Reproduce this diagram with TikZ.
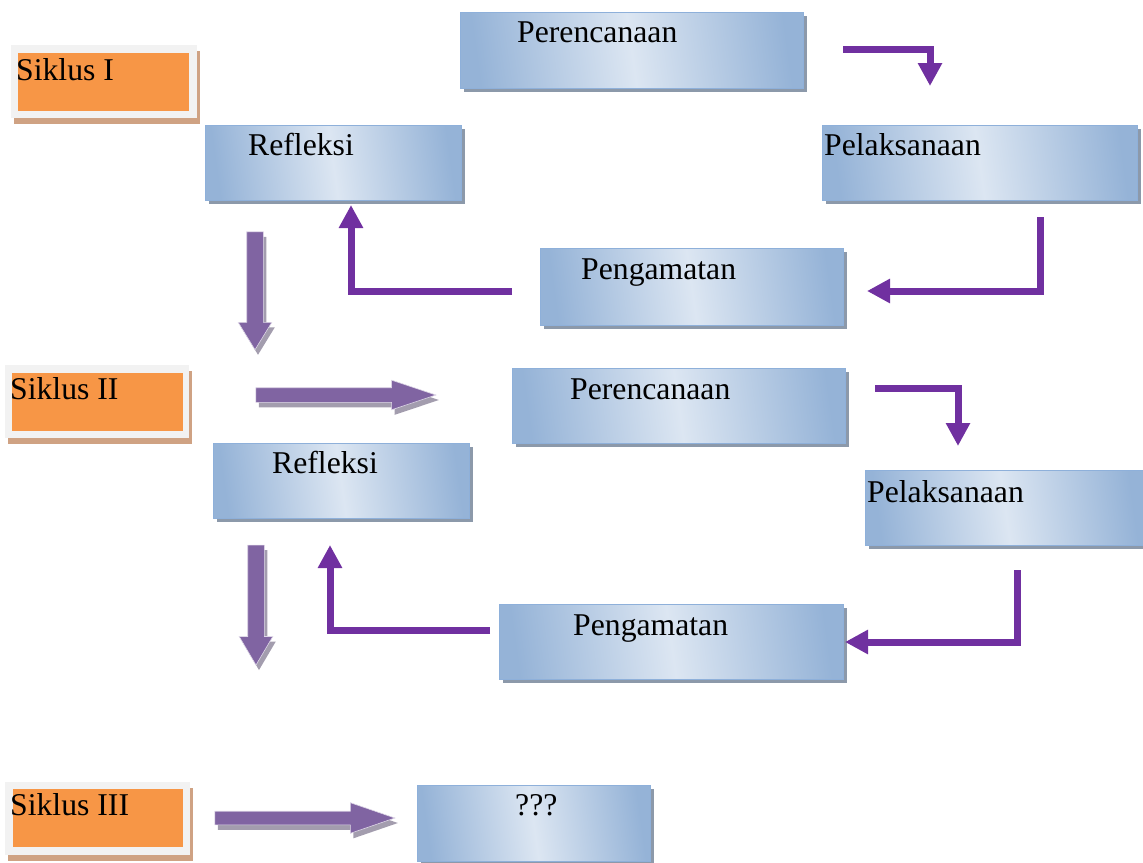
\documentclass[tikz,border=0pt]{standalone}
\usepackage{fontspec}
\setmainfont{Liberation Serif}
\usetikzlibrary{arrows.meta,shadows,shapes.arrows}
\definecolor{boxedge}{HTML}{95B3D7}
\definecolor{boxmid}{HTML}{DCE6F2}
\definecolor{boxline}{HTML}{8EB0DA}
\definecolor{boxshade}{HTML}{8C99AA}
\definecolor{siklusfill}{HTML}{F79646}
\definecolor{siklusframe}{HTML}{F2F2F2}
\definecolor{siklusshade}{HTML}{CFA283}
\definecolor{elbowpurple}{HTML}{7030A0}
\definecolor{fatpurple}{HTML}{8064A2}
\definecolor{fatshade}{HTML}{A39DAE}
\begin{document}
\begin{tikzpicture}[x=1pt,y=-1pt,font=\fontsize{31.7}{38}\selectfont,
	tahap/.style={draw=boxline,line width=1pt,left color=boxedge,right color=boxedge,middle color=boxmid,shading angle=98,
		anchor=north west,inner sep=0pt,outer sep=0pt,drop shadow={shadow xshift=4pt,shadow yshift=-4pt,fill=boxshade,opacity=1}},
	teks/.style={anchor=base west,inner sep=0pt},
	siklus/.style={fill=siklusframe,anchor=north west,inner sep=0pt,outer sep=0pt,
		drop shadow={shadow xshift=3pt,shadow yshift=-6pt,fill=siklusshade,opacity=1}},
	siklusisi/.style={fill=siklusfill,anchor=north west,inner sep=0pt,outer sep=0pt},
	elbow/.style={draw=elbowpurple,line width=7pt,-{Triangle[length=23pt,width=23pt]}},
	panah/.style={single arrow,fill=fatpurple,draw=white!75!fatpurple,line width=0.6pt,single arrow head indent=0pt,
		drop shadow={shadow xshift=3pt,shadow yshift=-5pt,fill=fatshade,opacity=1}}]
	\useasboundingbox (0,0) rectangle (1143,862);
	% siklus labels
	\node[siklus,minimum width=186,minimum height=73] (s1) at (11,45) {};
	\node[siklusisi,minimum width=171,minimum height=58] (s1isi) at (18,53) {};
	\node[teks] (s1t) at (16,80) {Siklus I};
	\node[siklus,minimum width=184,minimum height=73] (s2) at (5,365) {};
	\node[siklusisi,minimum width=171,minimum height=58] (s2isi) at (12,373) {};
	\node[teks] (s2t) at (10,399) {Siklus II};
	\node[siklus,minimum width=185,minimum height=73] (s3) at (5,782) {};
	\node[siklusisi,minimum width=170,minimum height=58] (s3isi) at (13,789) {};
	\node[teks] (s3t) at (10,815) {Siklus III};
	% siklus I
	\node[tahap,minimum width=343,minimum height=76] (per1) at (460,12) {};
	\node[teks] (per1t) at (517,42) {Perencanaan};
	\node[tahap,minimum width=256,minimum height=75] (ref1) at (205,125) {};
	\node[teks] (ref1t) at (248,155) {Refleksi};
	\node[tahap,minimum width=315,minimum height=75] (pel1) at (822,125) {};
	\node[teks] (pel1t) at (824,155) {Pelaksanaan};
	\node[tahap,minimum width=303,minimum height=77] (pen1) at (540,248) {};
	\node[teks] (pen1t) at (581,279) {Pengamatan};
	% siklus II
	\node[tahap,minimum width=333,minimum height=75] (per2) at (512,368) {};
	\node[teks] (per2t) at (570,399) {Perencanaan};
	\node[tahap,minimum width=256,minimum height=75] (ref2) at (213,443) {};
	\node[teks] (ref2t) at (272,473) {Refleksi};
	\node[tahap,minimum width=280,minimum height=75] (pel2) at (865,470) {};
	\node[teks] (pel2t) at (867,502) {Pelaksanaan};
	\node[tahap,minimum width=344,minimum height=75] (pen2) at (499,604) {};
	\node[teks] (pen2t) at (573,635) {Pengamatan};
	% siklus III
	\node[tahap,minimum width=233,minimum height=76] (tanya) at (417,785) {};
	\node[teks] (tanyat) at (515,815) {???};
	% fat arrows
	\node[panah,shape border rotate=270,minimum height=118,minimum width=33,inner sep=8pt,single arrow head extend=8.5pt,single arrow tip angle=63] (turun1) at (255,284) {};
	\node[panah,shape border rotate=270,minimum height=120,minimum width=33,inner sep=8pt,single arrow head extend=8.5pt,single arrow tip angle=61] (turun2) at (256,598) {};
	\node[panah,minimum height=180,minimum width=29,inner sep=7pt,single arrow head extend=7.5pt,single arrow tip angle=37] (kanan1) at (335,395) {};
	\node[panah,minimum height=180,minimum width=30,inner sep=6.5pt,single arrow head extend=8.5pt,single arrow tip angle=38] (kanan2) at (295,818) {};
	% cycle arrows
	\coordinate (a1) at (843,49);
	\coordinate (b1) at (930,86);
	\coordinate (a2) at (1040,217);
	\coordinate (b2) at (867,291);
	\coordinate (a3) at (512,291);
	\coordinate (b3) at (351,205);
	\coordinate (a4) at (875,388);
	\coordinate (b4) at (958,446);
	\coordinate (a5) at (1017,570);
	\coordinate (b5) at (845,642);
	\coordinate (a6) at (490,630);
	\coordinate (b6) at (330,545);
	\draw[elbow] (a1) -| (b1);
	\draw[elbow] (a2) |- (b2);
	\draw[elbow] (a3) -| (b3);
	\draw[elbow] (a4) -| (b4);
	\draw[elbow] (a5) |- (b5);
	\draw[elbow] (a6) -| (b6);
\end{tikzpicture}
\end{document}
